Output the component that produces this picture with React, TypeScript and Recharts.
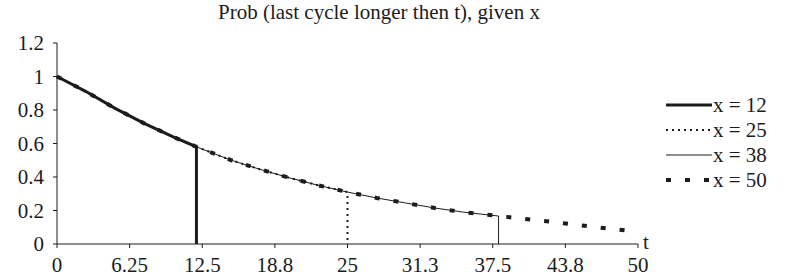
import React from 'react';
import { LineChart, Line, XAxis, YAxis } from 'recharts';

const curveT = [0, 2.5, 5, 7.5, 10, 12, 15, 17.5, 20, 22.5, 25, 27.5, 30, 32.5, 35, 38, 40, 42.5, 45, 47.5, 50];
const curveP = [1.0, 0.91, 0.81, 0.72, 0.64, 0.58, 0.5, 0.445, 0.395, 0.35, 0.31, 0.275, 0.245, 0.215, 0.19, 0.167, 0.152, 0.133, 0.112, 0.092, 0.073];
const seriesCutoffs = [12, 25, 38, 50];
const seriesNames = ['x = 12', 'x = 25', 'x = 38', 'x = 50'];
const xTickValues = [0, 6.25, 12.5, 18.75, 25, 31.25, 37.5, 43.75, 50];
const xTickLabels = ['0', '6.25', '12.5', '18.8', '25', '31.3', '37.5', '43.8', '50'];
const yTickValues = [0, 0.2, 0.4, 0.6, 0.8, 1, 1.2];
const title = 'Prob (last cycle longer then t), given x';
const xAxisName = 't';

const INK = '#1c1c1c';
const FONT = '"Liberation Serif", "Times New Roman", serif';
const FS = 21;

const lineStyles = [
  { strokeWidth: 3, dash: undefined as string | undefined, cap: 'butt' },
  { strokeWidth: 2, dash: '2 4', cap: 'butt' },
  { strokeWidth: 1, dash: undefined as string | undefined, cap: 'butt' },
  { strokeWidth: 4, dash: '5 14', cap: 'butt' },
];

function seriesData(cut: number) {
  const pts: { t: number; p: number }[] = [];
  curveT.forEach((t, i) => {
    if (t <= cut) pts.push({ t, p: curveP[i] });
  });
  if (cut < curveT[curveT.length - 1]) pts.push({ t: cut, p: 0 });
  return pts;
}

const xLabel = (v: number) => {
  const i = xTickValues.indexOf(v);
  return i >= 0 ? xTickLabels[i] : String(v);
};

export default function App() {
  return (
    <div style={{ position: 'absolute', left: 0, top: 0, width: 790, height: 277, background: '#fff' }}>
      <LineChart
        width={790}
        height={277}
        margin={{ top: 43, right: 152, bottom: 0, left: 0 }}
      >
        <XAxis
          dataKey="t"
          type="number"
          domain={[0, 50]}
          ticks={xTickValues}
          interval={0}
          tickFormatter={xLabel}
          height={33}
          tickSize={4}
          tickMargin={9}
          stroke={INK}
          tick={{ fill: INK, fontFamily: FONT, fontSize: FS }}
          allowDuplicatedCategory={false}
        />
        <YAxis
          type="number"
          domain={[0, 1.2]}
          ticks={yTickValues}
          interval={0}
          width={57}
          tickSize={4}
          tickMargin={9}
          stroke={INK}
          tick={{ fill: INK, fontFamily: FONT, fontSize: FS }}
        />
        {seriesCutoffs.map((cut, i) => (
          <Line
            key={seriesNames[i]}
            data={seriesData(cut)}
            dataKey="p"
            name={seriesNames[i]}
            type="linear"
            stroke={INK}
            strokeWidth={lineStyles[i].strokeWidth}
            strokeDasharray={lineStyles[i].dash}
            strokeLinecap={lineStyles[i].cap as any}
            dot={false}
            activeDot={false}
            isAnimationActive={false}
          />
        ))}
      </LineChart>
      <svg
        width={790}
        height={277}
        style={{ position: 'absolute', left: 0, top: 0, pointerEvents: 'none' }}
      >
        <text x={379} y={19} textAnchor="middle" fontFamily={FONT} fontSize={FS} fill={INK}>
          {title}
        </text>
        <text x={643} y={249} fontFamily={FONT} fontSize={FS} fill={INK}>
          {xAxisName}
        </text>
        {seriesNames.map((name, i) => {
          const cy = 105 + i * 25;
          const st = lineStyles[i];
          return (
            <g key={name}>
              <line
                x1={666}
                x2={712}
                y1={cy}
                y2={cy}
                stroke={INK}
                strokeWidth={st.strokeWidth}
                strokeDasharray={st.dash}
              />
              <text x={713} y={cy + 7} fontFamily={FONT} fontSize={FS} fill={INK}>
                {name}
              </text>
            </g>
          );
        })}
      </svg>
    </div>
  );
}
